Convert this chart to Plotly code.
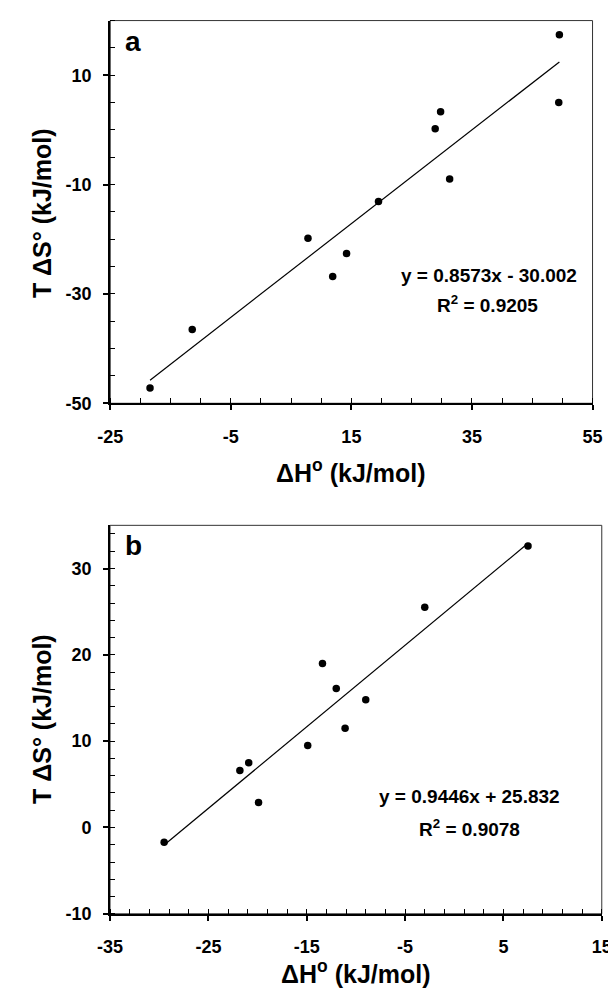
import plotly.graph_objects as go

# Panel a
a_dH = [-18.4, -11.4, 7.8, 11.9, 14.2, 19.5, 28.9, 29.8, 31.3, 49.4, 49.5]
a_TdS = [-47.2, -36.5, -19.8, -26.8, -22.6, -13.1, 0.2, 3.3, -9.0, 5.0, 17.4]
a_slope, a_intercept, a_r2 = 0.8573, -30.002, 0.9205

# Panel b
b_dH = [-29.5, -21.8, -20.9, -19.9, -14.9, -13.4, -12.0, -11.1, -9.0, -3.0, 7.5]
b_TdS = [-1.7, 6.6, 7.5, 2.9, 9.5, 19.0, 16.1, 11.5, 14.8, 25.5, 32.6]
b_slope, b_intercept, b_r2 = 0.9446, 25.832, 0.9078

a_xticks = [-25, -5, 15, 35, 55]
a_yticks = [-50, -30, -10, 10]
b_xticks = [-35, -25, -15, -5, 5, 15]
b_yticks = [-10, 0, 10, 20, 30]

FONT = "Liberation Sans, Arial, Helvetica, sans-serif"
W, H = 616, 994

fig = go.Figure()

def add_panel(xs, ys, slope, intercept, xa, ya):
    fig.add_trace(go.Scatter(x=xs, y=ys, mode="markers",
                             marker=dict(color="black", size=7.5),
                             xaxis=xa, yaxis=ya, showlegend=False))
    x0, x1 = min(xs), max(xs)
    fig.add_trace(go.Scatter(x=[x0, x1], y=[slope * x0 + intercept, slope * x1 + intercept],
                             mode="lines", line=dict(color="black", width=1.2),
                             xaxis=xa, yaxis=ya, showlegend=False))

add_panel(a_dH, a_TdS, a_slope, a_intercept, "x", "y")
add_panel(b_dH, b_TdS, b_slope, b_intercept, "x2", "y2")

def px_x(p):
    return p / W

def px_y(p):
    return 1 - p / H

tickfont = dict(family=FONT, size=18, color="black", weight="bold")

def main_axis(rng, vals, dom, anchor, is_x, mdt):
    d = dict(range=rng, domain=dom, anchor=anchor, tickvals=vals,
             ticktext=[f"<b>{v}</b>" for v in vals], ticks="outside", ticklen=5,
             tickwidth=1.5, tickcolor="black", showline=True, linecolor="black",
             linewidth=2, showgrid=False, zeroline=False, tickfont=tickfont,
             minor=dict(ticks="inside", dtick=mdt, tick0=rng[0], ticklen=5,
                        tickwidth=1.2, tickcolor="black", showgrid=False))
    d["ticklabelstandoff"] = 11 if is_x else 8
    return d

a_xr, a_yr = [-25, 55], [-50, 20]
b_xr, b_yr = [-35, 15], [-10, 35]

a_xdom = [px_x(92.7), px_x(593.7)]
a_ydom = [px_y(399.3), px_y(12.7)]
b_xdom = [px_x(92.5), px_x(603.3)]
b_ydom = [px_y(915), px_y(522.6)]

fig.update_layout(
    width=W, height=H, margin=dict(l=0, r=0, t=0, b=0),
    paper_bgcolor="white", plot_bgcolor="white",
    xaxis=main_axis(a_xr, a_xticks, a_xdom, "y", True, 5),
    yaxis=main_axis(a_yr, a_yticks, a_ydom, "x", False, 5),
    xaxis2=main_axis(b_xr, b_xticks, b_xdom, "y2", True, 2),
    yaxis2=main_axis(b_yr, b_yticks, b_ydom, "x2", False, 2),
)

for xr, yr in (("x", "y"), ("x2", "y2")):
    fig.add_shape(type="rect", xref=f"{xr} domain", yref=f"{yr} domain",
                  x0=0, x1=1, y0=0, y1=1, line=dict(color="#333", width=1),
                  layer="below")

title_font = dict(family=FONT, size=25, color="black", weight="bold")
eq_font = dict(family=FONT, size=19, color="black", weight="bold")
lab_font = dict(family=FONT, size=28, color="black", weight="bold")

def ann(text, x, y, font, angle=0):
    fig.add_annotation(text=text, xref="paper", yref="paper", x=px_x(x), y=px_y(y),
                       showarrow=False, font=font, textangle=angle,
                       xanchor="center", yanchor="middle")

# axis titles
ann("T ΔS° (kJ/mol)", 22, 207, title_font, -90)
ann("ΔH<sup>o</sup> (kJ/mol)", 343, 468, title_font)
ann("T ΔS° (kJ/mol)", 22, 718, title_font, -90)
ann("ΔH<sup>o</sup> (kJ/mol)", 348, 974, title_font)

# panel labels
ann("a", 116, 34, lab_font)
ann("b", 117, 543, lab_font)

# equations
ann(f"y = {a_slope}x - {abs(a_intercept):.3f}", 486, 270, eq_font)
ann(f"R<sup>2</sup> = {a_r2}", 485, 299, eq_font)
ann(f"y = {b_slope}x + {b_intercept:.3f}", 466, 797, eq_font)
ann(f"R<sup>2</sup> = {b_r2}", 466, 828, eq_font)

fig.write_html("out.html")
